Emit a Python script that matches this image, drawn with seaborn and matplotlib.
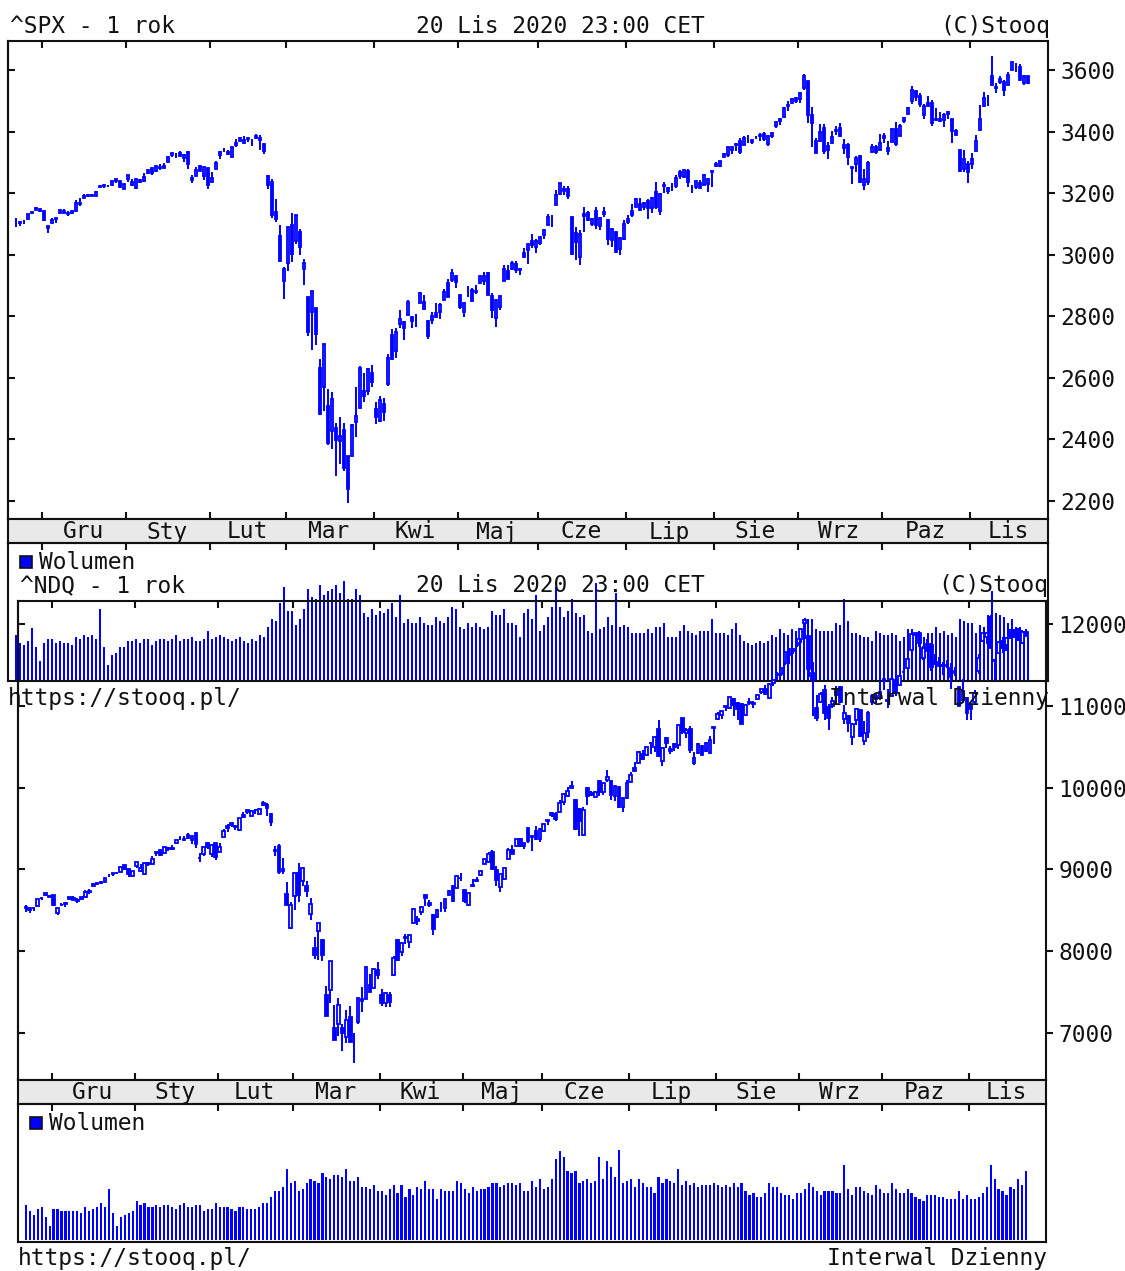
import numpy as np
import pandas as pd
import matplotlib
matplotlib.use("Agg")
import matplotlib.pyplot as plt
from matplotlib.patches import Rectangle
import seaborn as sns

# trading sessions of the last year (US market)
holidays = ["2019-11-28", "2019-12-25", "2020-01-01", "2020-01-20", "2020-02-17",
            "2020-04-10", "2020-05-25", "2020-07-03", "2020-09-07"]
sessions = pd.bdate_range("2019-11-20", "2020-11-20").difference(pd.to_datetime(holidays))
month_names = {1: "Sty", 2: "Lut", 3: "Mar", 4: "Kwi", 5: "Maj", 6: "Cze",
               7: "Lip", 8: "Sie", 9: "Wrz", 10: "Paz", 11: "Lis", 12: "Gru"}

# ---- ^SPX daily candles ----
spx_open = [
    3108, 3108, 3111, 3117, 3135, 3145, 3148,
    3143, 3087, 3103, 3120, 3135, 3141, 3135, 3136, 3141, 3166, 3183, 3195, 3195, 3192, 3223, 3227, 3225, 3227, 3247, 3240, 3215,
    3245, 3226, 3218, 3242, 3239, 3267, 3281, 3271, 3285, 3282, 3302, 3323, 3321, 3330, 3316, 3334, 3248, 3256, 3289, 3256, 3282,
    3236, 3280, 3325, 3344, 3335, 3318, 3365, 3371, 3365, 3378, 3370, 3381, 3380, 3360, 3257, 3238, 3139, 3062, 2916,
    2974, 3096, 3045, 3075, 2954, 2863, 2814, 2825, 2630, 2569, 2509, 2426, 2436, 2394, 2431, 2344, 2345, 2457, 2501, 2555, 2558, 2614,
    2499, 2459, 2515, 2579, 2739, 2686, 2776, 2782, 2805, 2796, 2800, 2843, 2845, 2785, 2788, 2810, 2812, 2854, 2909, 2919, 2930,
    2869, 2815, 2868, 2884, 2879, 2909, 2915, 2939, 2865, 2794, 2829, 2914, 2948, 2953, 2970, 2949, 3004, 3015, 3046, 3025,
    3038, 3064, 3098, 3112, 3163, 3199, 3213, 3213, 3123, 3072, 2994, 3131, 3136, 3101, 3141, 3095, 3139, 3114, 3047, 3074, 3018, 3050,
    3105, 3143, 3155, 3166, 3154, 3176, 3152, 3205, 3142, 3225, 3208, 3224, 3224, 3268, 3254, 3271, 3218, 3219, 3234, 3227, 3231, 3270,
    3288, 3289, 3318, 3323, 3340, 3357, 3370, 3356, 3372, 3368, 3380, 3387, 3392, 3361, 3386, 3418, 3435, 3449, 3486, 3494, 3509,
    3507, 3543, 3564, 3453, 3371, 3369, 3412, 3353, 3364, 3407, 3411, 3346, 3357, 3285, 3295, 3321, 3226, 3237, 3333, 3350, 3341,
    3385, 3338, 3368, 3408, 3385, 3434, 3459, 3500, 3534, 3515, 3453, 3493, 3494, 3439, 3440, 3439, 3458, 3441, 3404, 3342, 3278, 3294,
    3296, 3336, 3406, 3485, 3509, 3583, 3544, 3563, 3563, 3552, 3600, 3610, 3612, 3560, 3580,
]
spx_high = [
    3119, 3110, 3112, 3134, 3142, 3155, 3150,
    3144, 3094, 3119, 3120, 3150, 3148, 3143, 3143, 3177, 3183, 3198, 3198, 3198, 3206, 3226, 3227, 3226, 3240, 3247, 3241, 3231,
    3258, 3246, 3247, 3245, 3267, 3276, 3283, 3288, 3294, 3299, 3317, 3329, 3330, 3337, 3327, 3338, 3259, 3285, 3293, 3286, 3282,
    3268, 3306, 3337, 3348, 3342, 3352, 3375, 3381, 3385, 3380, 3375, 3393, 3390, 3361, 3259, 3247, 3182, 3098, 2960,
    3091, 3136, 3130, 3083, 2985, 2863, 2883, 2825, 2661, 2711, 2562, 2553, 2453, 2473, 2453, 2346, 2449, 2571, 2637, 2615, 2631, 2642,
    2522, 2540, 2534, 2677, 2757, 2760, 2819, 2783, 2851, 2801, 2807, 2880, 2869, 2786, 2815, 2844, 2842, 2887, 2921, 2954, 2930,
    2869, 2844, 2898, 2892, 2902, 2932, 2945, 2945, 2875, 2853, 2865, 2968, 2965, 2980, 2978, 2957, 3021, 3036, 3068, 3050,
    3062, 3081, 3131, 3129, 3211, 3233, 3223, 3223, 3123, 3089, 3080, 3154, 3141, 3120, 3156, 3121, 3155, 3115, 3086, 3074, 3053, 3112,
    3128, 3165, 3183, 3185, 3172, 3180, 3187, 3235, 3200, 3238, 3220, 3233, 3258, 3277, 3280, 3280, 3228, 3241, 3243, 3264, 3250, 3272,
    3302, 3306, 3330, 3351, 3352, 3364, 3381, 3387, 3388, 3378, 3387, 3395, 3399, 3391, 3399, 3432, 3444, 3481, 3501, 3510, 3514,
    3528, 3588, 3564, 3480, 3380, 3424, 3425, 3368, 3402, 3419, 3428, 3375, 3363, 3285, 3320, 3323, 3279, 3306, 3360, 3357, 3393,
    3397, 3369, 3409, 3431, 3426, 3447, 3482, 3550, 3534, 3527, 3489, 3515, 3502, 3476, 3465, 3460, 3466, 3441, 3410, 3342, 3342, 3305,
    3331, 3389, 3486, 3529, 3521, 3646, 3558, 3581, 3569, 3593, 3628, 3624, 3619, 3586, 3581,
]
spx_low = [
    3091, 3094, 3099, 3117, 3131, 3145, 3140,
    3110, 3070, 3103, 3104, 3135, 3135, 3126, 3133, 3139, 3159, 3183, 3187, 3191, 3192, 3216, 3216, 3220, 3227, 3234, 3216, 3213,
    3235, 3223, 3215, 3232, 3236, 3264, 3260, 3269, 3277, 3281, 3302, 3318, 3316, 3320, 3302, 3280, 3234, 3256, 3271, 3243, 3214,
    3236, 3280, 3313, 3335, 3323, 3317, 3352, 3369, 3360, 3366, 3355, 3378, 3341, 3328, 3214, 3118, 3108, 2977, 2855,
    2946, 2976, 3034, 2999, 2901, 2734, 2691, 2707, 2478, 2492, 2381, 2367, 2281, 2319, 2295, 2192, 2345, 2408, 2501, 2520, 2545, 2571,
    2448, 2455, 2460, 2574, 2658, 2663, 2762, 2721, 2805, 2761, 2765, 2843, 2820, 2727, 2776, 2794, 2791, 2854, 2861, 2912, 2892,
    2822, 2798, 2863, 2845, 2872, 2909, 2903, 2869, 2794, 2766, 2821, 2914, 2922, 2953, 2939, 2933, 2988, 2970, 3023, 3007,
    3032, 3052, 3098, 3091, 3163, 3197, 3193, 3182, 2999, 2984, 2966, 3074, 3109, 3093, 3083, 3081, 3123, 3032, 3025, 3004, 2999, 3047,
    3101, 3124, 3155, 3143, 3144, 3116, 3136, 3150, 3128, 3200, 3199, 3206, 3216, 3247, 3254, 3220, 3201, 3215, 3216, 3227, 3205, 3221,
    3284, 3286, 3317, 3318, 3328, 3336, 3327, 3356, 3365, 3361, 3379, 3370, 3369, 3354, 3380, 3413, 3421, 3444, 3468, 3495, 3494,
    3494, 3535, 3427, 3350, 3330, 3366, 3329, 3311, 3364, 3390, 3384, 3328, 3292, 3229, 3270, 3232, 3209, 3228, 3333, 3327, 3341,
    3362, 3324, 3367, 3355, 3385, 3428, 3458, 3492, 3500, 3480, 3440, 3483, 3420, 3435, 3433, 3416, 3441, 3364, 3389, 3269, 3269, 3234,
    3280, 3336, 3405, 3485, 3484, 3551, 3526, 3557, 3518, 3552, 3600, 3595, 3567, 3552, 3557,
]
spx_close = [
    3108, 3103, 3110, 3133, 3140, 3153, 3141,
    3113, 3093, 3113, 3117, 3146, 3136, 3132, 3141, 3169, 3169, 3191, 3192, 3191, 3205, 3221, 3224, 3223, 3240, 3240, 3221, 3231,
    3258, 3235, 3246, 3237, 3253, 3275, 3265, 3288, 3283, 3289, 3317, 3330, 3321, 3321, 3326, 3295, 3244, 3276, 3273, 3284, 3226,
    3249, 3298, 3334, 3345, 3328, 3352, 3358, 3379, 3374, 3380, 3370, 3386, 3373, 3338, 3226, 3128, 3116, 2979, 2954,
    3090, 3003, 3130, 3024, 2972, 2747, 2882, 2741, 2481, 2711, 2386, 2529, 2398, 2409, 2305, 2237, 2447, 2476, 2630, 2541, 2627, 2585,
    2471, 2527, 2489, 2664, 2660, 2750, 2790, 2762, 2846, 2784, 2800, 2875, 2823, 2737, 2799, 2798, 2837, 2878, 2863, 2940, 2912,
    2831, 2843, 2868, 2848, 2882, 2930, 2930, 2870, 2820, 2853, 2864, 2954, 2922, 2972, 2949, 2955, 2992, 3036, 3030, 3044,
    3056, 3081, 3122, 3112, 3194, 3232, 3207, 3190, 3002, 3041, 3067, 3125, 3113, 3115, 3098, 3118, 3131, 3050, 3084, 3009, 3053, 3100,
    3116, 3130, 3180, 3145, 3169, 3152, 3185, 3155, 3197, 3227, 3216, 3225, 3251, 3257, 3276, 3236, 3216, 3239, 3218, 3258, 3246, 3271,
    3295, 3306, 3327, 3349, 3351, 3360, 3333, 3380, 3373, 3373, 3381, 3390, 3375, 3385, 3397, 3431, 3443, 3478, 3484, 3508, 3500,
    3527, 3580, 3455, 3427, 3331, 3399, 3339, 3341, 3383, 3401, 3385, 3357, 3319, 3281, 3315, 3237, 3246, 3298, 3351, 3335, 3363,
    3380, 3348, 3409, 3361, 3419, 3446, 3477, 3535, 3512, 3489, 3483, 3484, 3427, 3443, 3436, 3453, 3465, 3401, 3391, 3271, 3310, 3270,
    3310, 3370, 3443, 3510, 3509, 3551, 3546, 3573, 3537, 3585, 3627, 3610, 3568, 3582, 3558,
]
spx_vol = [  # mln
    4500, 3670, 3500, 3900, 5170, 3330, 1900, 3700, 4100, 4100, 3700, 3900, 3700, 3700, 3500, 4300, 4100, 4500, 4300, 4500,
    4100, 7100, 3330, 1500, 2500, 2700, 3330, 3330, 3900, 3900, 4100, 3700, 4100, 4100, 3500, 3900, 4100, 4100, 3900, 4100,
    4500, 3900, 4100, 4100, 4300, 3900, 3900, 4100, 4900, 4100, 4300, 4500, 4300, 4100, 3900, 4100, 4300, 3900, 3700, 4100,
    3900, 4500, 4300, 5300, 6100, 5900, 7700, 9300, 6900, 6900, 5500, 6100, 7100, 9100, 8300, 8100, 9500, 8500, 8900, 9100,
    9500, 8700, 9900, 8100, 8100, 9100, 8500, 6700, 6300, 7100, 6500, 6900, 6700, 7100, 7700, 6300, 8500, 5700, 6100, 5700,
    5700, 6300, 5700, 5500, 5500, 6300, 5900, 5700, 6300, 7300, 7100, 5300, 5100, 5700, 5300, 5700, 5300, 5100, 5300, 6900,
    6500, 6500, 7100, 5700, 5700, 5500, 4300, 6700, 7100,
    6100, 8500, 4900, 5500, 6300, 7300, 9300, 7300, 6300, 6900, 8100, 6700, 6300, 6500, 4900, 4700, 9700, 5100, 5300, 6300,
    5500, 8700, 5300, 5500, 5300, 4700, 4700, 4700, 4700, 5100, 4700, 5300, 5300, 5700, 4300, 4300, 4300, 4900, 5500, 4900,
    4700, 4500, 4900, 4900, 4900, 6100, 4700, 4700, 4700, 4500, 5100, 5700, 4500, 3900, 3700, 3500, 3700, 3900, 3700, 3900,
    4500, 4300, 5100, 4700, 4500, 5100, 4900, 5100, 6100, 6100, 6100, 5100, 4900, 4900, 4900, 4900, 5700, 5500, 8100, 5900,
    4700, 4700, 4500, 4300, 4300, 3900, 4900, 4700, 4500, 4500, 4700, 4500, 3900, 4300, 5100, 4900, 4300, 4700, 4300, 4700,
    4700, 5300, 4700, 4900, 4500, 4700, 4300, 6100, 5900, 5700, 5700, 4700, 5500, 5300, 6500, 8900, 6700, 6500, 6300, 5700,
    6100, 5300, 5300, 4900, 4300,
]

# ---- ^NDQ daily candles ----
ndq_open = [
    8535, 8520, 8527, 8555, 8643, 8679, 8678,
    8686, 8461, 8566, 8589, 8634, 8650, 8618, 8640, 8665, 8722, 8790, 8836, 8838, 8842, 8930, 8950, 8950, 8962, 9049, 9004, 8919,
    9039, 8976, 8943, 9071, 9069, 9205, 9235, 9203, 9264, 9243, 9317, 9390, 9359, 9415, 9362, 9438, 9136, 9188, 9321, 9188, 9323,
    9206, 9398, 9534, 9543, 9531, 9475, 9666, 9698, 9658, 9725, 9681, 9792, 9792, 9681, 9235, 9279, 9005, 8694, 8283,
    8667, 8950, 8852, 8799, 8450, 8035, 8248, 8137, 7465, 7516, 7058, 7100, 7058, 6946, 7196, 6862, 7134, 7414, 7413, 7580, 7542, 7761,
    7459, 7361, 7459, 7701, 8138, 7989, 8169, 8108, 8346, 8363, 8479, 8679, 8584, 8441, 8414, 8494, 8529, 8686, 8797, 8765, 8887,
    8748, 8566, 8796, 8871, 8928, 9063, 9091, 9216, 8991, 8779, 8878, 9126, 9241, 9290, 9368, 9288, 9501, 9392, 9467, 9370,
    9471, 9585, 9664, 9673, 9704, 9822, 9893, 9999, 9853, 9735, 9422, 9990, 9934, 9880, 10082, 9946, 10092, 10080, 9900, 10007, 9759, 9870,
    10064, 10241, 10298, 10408, 10403, 10542, 10494, 10720, 10325, 10609, 10443, 10538, 10523, 10853, 10667, 10716, 10298, 10418, 10510, 10443, 10425, 10727,
    10836, 10894, 10981, 10975, 11089, 11032, 11028, 10885, 11032, 11036, 11083, 11176, 11212, 11094, 11285, 11386, 11387, 11521, 11693, 11672, 11742,
    11816, 12013, 11860, 11406, 10980, 11049, 11201, 10981, 11005, 11139, 11230, 10838, 10878, 10622, 10829, 10952, 10570, 10676, 11044, 11120, 11109,
    11308, 11057, 11123, 11319, 11257, 11420, 11470, 11689, 11889, 11888, 11583, 11764, 11746, 11534, 11500, 11488, 11545, 11463, 11402, 11230, 11076, 11103,
    11010, 11048, 11423, 11794, 11841, 12095, 11562, 11648, 11792, 11743, 11905, 11908, 11914, 11770, 11900,
]
ndq_high = [
    8560, 8530, 8531, 8634, 8650, 8705, 8685,
    8687, 8524, 8592, 8594, 8665, 8675, 8647, 8665, 8751, 8763, 8831, 8838, 8856, 8887, 8946, 8956, 8955, 9023, 9052, 9007, 8973,
    9093, 9066, 9072, 9092, 9168, 9209, 9238, 9274, 9271, 9299, 9357, 9398, 9413, 9438, 9408, 9451, 9196, 9278, 9338, 9303, 9323,
    9317, 9488, 9549, 9572, 9541, 9628, 9701, 9727, 9726, 9733, 9741, 9839, 9807, 9684, 9286, 9315, 9136, 8843, 8596,
    8953, 9071, 9019, 8850, 8651, 8167, 8344, 8147, 7568, 7875, 7343, 7417, 7108, 7277, 7321, 6994, 7419, 7560, 7801, 7712, 7780, 7862,
    7532, 7492, 7491, 7936, 8141, 8092, 8209, 8197, 8522, 8426, 8550, 8679, 8628, 8448, 8517, 8603, 8639, 8746, 8800, 8927, 8950,
    8748, 8712, 8883, 8911, 8993, 9121, 9210, 9234, 9045, 8944, 9015, 9262, 9302, 9375, 9383, 9325, 9505, 9413, 9524, 9505,
    9555, 9608, 9705, 9706, 9845, 9928, 10002, 10086, 9858, 9744, 9760, 10002, 9961, 9955, 10089, 10058, 10221, 10090, 10018, 10007, 9875, 10094,
    10186, 10310, 10443, 10457, 10493, 10561, 10617, 10825, 10495, 10621, 10512, 10547, 10772, 10858, 10733, 10749, 10432, 10541, 10523, 10556, 10627, 10746,
    10930, 10942, 11002, 11108, 11100, 11043, 11035, 11018, 11101, 11057, 11134, 11211, 11258, 11276, 11323, 11411, 11466, 11666, 11714, 11706, 11829,
    11940, 12074, 11861, 11532, 11130, 11165, 11257, 11020, 11104, 11244, 11243, 11013, 10883, 10791, 10973, 10958, 10810, 10942, 11151, 11163, 11309,
    11347, 11204, 11335, 11399, 11381, 11437, 11580, 11946, 11899, 11923, 11740, 11823, 11768, 11631, 11602, 11534, 11549, 11522, 11474, 11230, 11330, 11112,
    11036, 11199, 11641, 11895, 11909, 12108, 11574, 11797, 11850, 11839, 11948, 11945, 11960, 11925, 11941,
]
ndq_low = [
    8475, 8470, 8494, 8555, 8627, 8674, 8661,
    8552, 8436, 8559, 8541, 8627, 8620, 8591, 8628, 8650, 8698, 8788, 8808, 8823, 8840, 8900, 8923, 8941, 8962, 8988, 8911, 8914,
    9010, 8972, 8943, 9043, 9060, 9166, 9158, 9188, 9219, 9232, 9314, 9359, 9350, 9376, 9315, 9256, 9089, 9158, 9253, 9154, 9118,
    9206, 9398, 9450, 9517, 9478, 9472, 9622, 9681, 9651, 9674, 9667, 9779, 9653, 9535, 9164, 8939, 8945, 8564, 8264,
    8504, 8603, 8799, 8657, 8373, 7896, 7887, 7877, 7199, 7360, 6904, 6963, 6772, 6867, 6879, 6631, 7104, 7249, 7412, 7500, 7540, 7659,
    7330, 7316, 7316, 7692, 7880, 7935, 8087, 8035, 8344, 8321, 8436, 8552, 8537, 8200, 8407, 8485, 8480, 8686, 8604, 8765, 8851,
    8590, 8550, 8788, 8846, 8918, 9059, 9090, 9000, 8791, 8724, 8872, 9126, 9183, 9290, 9275, 9248, 9316, 9219, 9353, 9331,
    9461, 9539, 9643, 9585, 9704, 9781, 9882, 9990, 9486, 9410, 9410, 9781, 9899, 9880, 9898, 9914, 10071, 9849, 9837, 9747, 9703, 9864,
    10063, 10203, 10298, 10336, 10392, 10409, 10440, 10370, 10266, 10480, 10408, 10452, 10473, 10656, 10609, 10429, 10279, 10410, 10395, 10441, 10416, 10530,
    10826, 10844, 10932, 10960, 10876, 10828, 10780, 10882, 11013, 10977, 11077, 11140, 11130, 11089, 11246, 11321, 11367, 11504, 11516, 11640, 11716,
    11768, 11819, 11350, 10875, 10810, 11039, 10830, 10705, 10969, 11093, 11040, 10773, 10686, 10520, 10761, 10620, 10519, 10609, 11010, 11034, 11071,
    11196, 10971, 11113, 11118, 11254, 11366, 11450, 11656, 11788, 11725, 11560, 11671, 11431, 11514, 11483, 11373, 11463, 11211, 11369, 11003, 11036, 10823,
    10831, 11014, 11393, 11778, 11755, 11713, 11307, 11648, 11648, 11676, 11825, 11835, 11801, 11758, 11854,
]
ndq_close = [
    8527, 8506, 8520, 8633, 8648, 8705, 8665,
    8568, 8521, 8567, 8570, 8657, 8622, 8616, 8654, 8717, 8735, 8814, 8823, 8827, 8887, 8925, 8945, 8952, 9023, 9007, 8945, 8973,
    9093, 9021, 9071, 9069, 9129, 9203, 9179, 9274, 9251, 9259, 9357, 9389, 9370, 9383, 9402, 9315, 9139, 9270, 9276, 9299, 9151,
    9273, 9467, 9509, 9572, 9520, 9628, 9639, 9726, 9711, 9731, 9733, 9817, 9750, 9577, 9221, 8966, 8980, 8566, 8567,
    8952, 8684, 9019, 8738, 8576, 7950, 8344, 7952, 7201, 7875, 6905, 7335, 6989, 7151, 6880, 6861, 7418, 7385, 7798, 7502, 7774, 7700,
    7360, 7487, 7374, 7913, 7887, 8091, 8153, 8193, 8516, 8393, 8533, 8650, 8561, 8263, 8495, 8494, 8634, 8730, 8608, 8915, 8890,
    8605, 8710, 8810, 8854, 8979, 9121, 9192, 9002, 8863, 8944, 9015, 9234, 9185, 9375, 9285, 9325, 9340, 9413, 9369, 9490,
    9552, 9608, 9683, 9616, 9815, 9925, 9953, 10020, 9493, 9589, 9726, 9895, 9911, 9943, 9946, 10056, 10131, 9909, 10017, 9757, 9875, 10059,
    10155, 10208, 10434, 10344, 10493, 10548, 10617, 10391, 10488, 10550, 10474, 10503, 10768, 10681, 10706, 10462, 10363, 10536, 10402, 10543, 10587, 10745,
    10903, 10941, 10998, 11109, 11011, 10968, 10782, 11012, 11042, 11020, 11129, 11210, 11146, 11265, 11312, 11380, 11466, 11665, 11625, 11696, 11775,
    11939, 12056, 11458, 11313, 10848, 11142, 10919, 10854, 11056, 11191, 11050, 10910, 10794, 10778, 10964, 10633, 10672, 10914, 11118, 11085, 11168,
    11326, 11076, 11332, 11155, 11365, 11421, 11580, 11876, 11864, 11768, 11714, 11672, 11479, 11516, 11485, 11506, 11548, 11359, 11431, 11005, 11186, 10912,
    10957, 11161, 11590, 11891, 11895, 11713, 11554, 11786, 11710, 11829, 11925, 11899, 11802, 11905, 11855,
]
ndq_vol = [  # mln
    3470, 2870, 2470, 3070, 3270, 2270, 1400, 3070, 3070, 2870, 2870, 2870, 2870, 2870, 2670, 3270, 2870, 3070, 3270, 3670,
    3270, 5070, 2670, 1400, 2270, 2470, 2670, 2870, 3870, 3470, 3670, 3270, 3270, 3470, 3270, 3470, 3470, 3270, 3070, 3470,
    3670, 3270, 3270, 3470, 3470, 2870, 3070, 3070, 3670, 3270, 3270, 3270, 3070, 2870, 3270, 3270, 3070, 3070, 3070, 3270,
    3670, 3670, 4270, 4870, 4870, 5270, 7070, 5670, 5870, 4870, 5070, 5670, 6070, 5870, 5670, 6670, 6270, 6070, 6470, 6470,
    6270, 7070, 5870, 5870, 6270, 5270, 5270, 5070, 5470, 4870, 4870, 4470, 5070, 5470, 4670, 5470, 4270, 5070, 4470, 5270,
    5070, 5870, 5070, 5070, 4070, 5070, 4870, 4870, 4870, 5870, 5670, 5070, 4670, 5270, 4870, 5070, 5070, 5270, 5670, 5670,
    5270, 5470, 5670, 5670, 5470, 5670, 4870, 4870, 5870, 5270, 6070,
    5070, 5270, 6070, 8070, 8870, 8270, 6870, 6670, 6870, 5670, 5870, 6070, 5670, 5870, 8270, 6070, 7870, 7270, 6270, 9000,
    5670, 5870, 6070, 5270, 6070, 5670, 5270, 5270, 4670, 6270, 5670, 6070, 5870, 5670, 7070, 5470, 5870, 5470, 5670, 5270,
    5470, 5470, 5470, 5670, 5470, 5270, 5470, 5270, 5670, 5270, 5670, 4870, 4470, 4670, 4270, 4270, 4670, 5670, 5270, 5270,
    4670, 4470, 4470, 4070, 4670, 4670, 5070, 5670, 5270, 4870, 4470, 4870, 4870, 4870, 4670, 4670, 7470, 5070, 4470, 5270,
    5270, 4870, 4670, 4470, 5470, 5070, 4670, 4670, 5670, 5070, 4670, 4670, 5070, 4670, 4270, 4070, 3870, 4470, 4470, 4470,
    4270, 4270, 4070, 4070, 4070, 4870, 4070, 4470, 4070, 4070, 4270, 4670, 5270, 7470, 6070, 5070, 4870, 4470, 5270, 5070,
    6070, 5470, 6870,
]

for name, arr in [("spx_open", spx_open), ("spx_high", spx_high), ("spx_low", spx_low),
                  ("spx_close", spx_close), ("spx_vol", spx_vol), ("ndq_open", ndq_open),
                  ("ndq_high", ndq_high), ("ndq_low", ndq_low), ("ndq_close", ndq_close),
                  ("ndq_vol", ndq_vol)]:
    assert len(arr) == len(sessions), (name, len(arr), len(sessions))

spx_yticks = [2200, 2400, 2600, 2800, 3000, 3200, 3400, 3600]
ndq_yticks = [7000, 8000, 9000, 10000, 11000, 12000]

# ---- styling ----
sns.set_style("white")
plt.rcParams["font.family"] = ["DejaVu Sans Mono"]
BLUE = "#0000ff"
INK = "#111111"
FS = 16.5
W, H = 1125, 1271
XLIM = (-2, 258)

fig = plt.figure(figsize=(W / 100, H / 100), dpi=100)


def px_axes(x0, y0, x1, y1, **kw):
    return fig.add_axes([x0 / W, 1 - y1 / H, (x1 - x0) / W, (y1 - y0) / H], **kw)


def ftext(x, y, s, **kw):
    fig.text(x / W, 1 - y / H, s, fontsize=FS, color=INK, va="baseline", **kw)


new_month = np.flatnonzero(sessions.month[1:] != sessions.month[:-1]) + 1
bounds = new_month - 0.5
edges = list(bounds) + [XLIM[1]]
mlabels = [month_names[m] for m in sessions.month[new_month]]


def draw_chart(title, left, right, top, hdr_y, o, h, l, c, vol, yticks, ylim, vol_ylim, leg_x):
    o, h, l, c = (np.asarray(a, dtype=float) for a in (o, h, l, c))
    idx = np.arange(len(c))
    p_bot, s_bot, v_bot = top + 478.5, top + 502.5, top + 640.5

    ax = px_axes(left, top, right, p_bot, facecolor="none")
    strip = px_axes(left, p_bot, right, s_bot, facecolor="#e9e9e9")
    axv = px_axes(left, s_bot, right, v_bot, facecolor="none")

    # candles: wick first, then body (hollow = up, filled = down)
    up = c >= o
    ax.vlines(idx, l, h, color=BLUE, lw=1.4, zorder=2)
    ax.bar(idx, np.abs(c - o), bottom=np.minimum(o, c), width=0.7,
           color=np.where(up, "white", BLUE), edgecolor=BLUE, linewidth=1.3, zorder=3)

    # volume
    sns.barplot(x=idx, y=vol, native_scale=True, color=BLUE, saturation=1,
                width=0.55, linewidth=0, errorbar=None, ax=axv)
    axv.set_xlabel("")
    axv.set_ylabel("")
    axv.set_ylim(vol_ylim)
    axv.set_yticks([])

    for a in (ax, strip, axv):
        a.set_xlim(XLIM)
        for sp in a.spines.values():
            sp.set_linewidth(1.5)
            sp.set_color(INK)

    ax.set_ylim(ylim)
    ax.set_xticks(bounds)
    ax.tick_params(axis="x", top=True, bottom=True, direction="in", length=5,
                   width=1.5, color=INK, labelbottom=False, labeltop=False)
    ax.set_yticks(yticks)
    ax.yaxis.tick_right()
    ax.set_yticklabels([str(t) for t in yticks])
    ax.tick_params(axis="y", direction="out", length=5, width=1.5, pad=4,
                   labelsize=FS, colors=INK)
    sec = ax.secondary_yaxis("left")
    sec.set_yticks(yticks)
    sec.tick_params(direction="in", length=5, width=1.5, labelleft=False, color=INK)
    sec.spines["left"].set_linewidth(1.5)

    axv.set_xticks(bounds)
    axv.tick_params(axis="x", top=True, bottom=False, direction="in", length=5,
                    width=1.5, color=INK, labelbottom=False)
    strip.set_xticks([])
    strip.set_yticks([])

    # month names centred between boundaries
    span = XLIM[1] - XLIM[0]
    for k, lab in enumerate(mlabels):
        cx = (edges[k] + edges[k + 1]) / 2
        xpx = left + (cx - XLIM[0]) / span * (right - left)
        ftext(xpx - 1, p_bot + 19.5, lab, ha="center")

    # header / footer
    ftext(left + 2, hdr_y, title, ha="left")
    ftext(560, hdr_y, "20 Lis 2020 23:00 CET", ha="center")
    ftext(right + 2, hdr_y, "(C)Stooq", ha="right")
    ftext(left, v_bot + 24, "https://stooq.pl/", ha="left")
    ftext(right + 1, v_bot + 24, "Interwal Dzienny", ha="right")

    # volume legend
    fig.add_artist(Rectangle((leg_x / W, 1 - (s_bot + 25) / H), 12 / W, 12 / H,
                             transform=fig.transFigure, facecolor=BLUE,
                             edgecolor=INK, linewidth=1.2))
    ftext(leg_x + 19, s_bot + 26, "Wolumen", ha="left")


draw_chart("^SPX - 1 rok", 8, 1048, 40.5, 33, spx_open, spx_high, spx_low, spx_close,
           spx_vol, spx_yticks, (2140, 3697), (-100, 13700), 20)
draw_chart("^NDQ - 1 rok", 18, 1046, 601, 592, ndq_open, ndq_high, ndq_low, ndq_close,
           ndq_vol, ndq_yticks, (6425, 12285), (-200, 13600), 30)

fig.savefig("out.png", dpi=100)
